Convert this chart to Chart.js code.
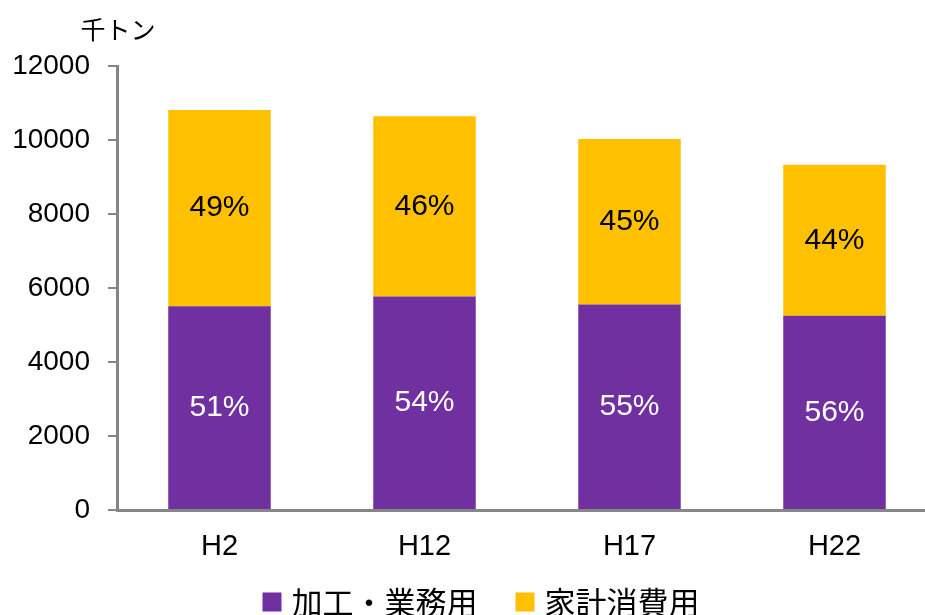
<!DOCTYPE html>
<html>
<head>
<meta charset="utf-8">
<script src="https://cdn.jsdelivr.net/npm/chart.js@4"></script>
<style>
  html, body { margin: 0; padding: 0; overflow: hidden; background: #fff; }
  #wrap { width: 937px; height: 615px; position: relative; }
</style>
</head>
<body>
<div id="wrap"><canvas id="riceChart"></canvas></div>
<script>
// データ
const years = ["H2", "H12", "H17", "H22"];
const processedUse = [5510, 5770, 5555, 5250];   // 加工・業務用
const householdUse = [5300, 4875, 4475, 4080];   // 家計消費用
const yTicks = [0, 2000, 4000, 6000, 8000, 10000, 12000];
const unitLabel = "千トン";
const seriesNames = ["加工・業務用", "家計消費用"];

const FONT = "'Liberation Sans', Arial, 'Noto Sans CJK JP', sans-serif";
const CJK = "'Noto Sans CJK JP', sans-serif";
const AXIS_GREY = "#868686";

// **棒の中に割合を描く**
const percentLabels = {
  id: "percentLabels",
  afterDatasetsDraw(chart) {
    const ctx = chart.ctx;
    const sets = chart.data.datasets;
    ctx.save();
    ctx.font = "30px " + FONT;
    ctx.textAlign = "center";
    ctx.textBaseline = "middle";
    sets.forEach((ds, di) => {
      const meta = chart.getDatasetMeta(di);
      meta.data.forEach((bar, i) => {
        const total = sets.reduce((s, d) => s + d.data[i], 0);
        const pct = Math.round(ds.data[i] / total * 100);
        ctx.fillStyle = di === 0 ? "#ffffff" : "#000000";
        ctx.fillText(pct + "%", bar.x, (bar.y + bar.base) / 2);
      });
    });
    ctx.restore();
  }
};

// **単位ラベルと凡例**
const extras = {
  id: "extras",
  afterDraw(chart) {
    const ctx = chart.ctx;
    ctx.save();
    ctx.font = "25px " + CJK;
    ctx.fillStyle = "#000";
    ctx.textAlign = "center";
    ctx.textBaseline = "middle";
    ctx.fillText(unitLabel, chart.chartArea.left + 1, 29);

    // 凡例
    const box = 19, gap = 10, spacing = 38, cy = 602;
    ctx.font = "31px " + CJK;
    ctx.textAlign = "left";
    const items = chart.data.datasets.map(ds => ({
      text: ds.label, color: ds.backgroundColor, w: ctx.measureText(ds.label).width
    }));
    const total = items.reduce((s, it) => s + box + gap + it.w, 0) + spacing * (items.length - 1);
    let x = 481 - total / 2;
    items.forEach(it => {
      ctx.fillStyle = it.color;
      ctx.fillRect(x, cy - box / 2, box, box);
      ctx.fillStyle = "#000";
      ctx.fillText(it.text, x + box + gap, cy);
      x += box + gap + it.w + spacing;
    });
    ctx.restore();
  }
};

const ctx = document.getElementById("riceChart").getContext("2d");
new Chart(ctx, {
  type: "bar",
  data: {
    labels: years,
    datasets: [
      { label: seriesNames[0], data: processedUse, backgroundColor: "#7030A0",
        categoryPercentage: 0.5, barPercentage: 1.0 },
      { label: seriesNames[1], data: householdUse, backgroundColor: "#FFC000",
        categoryPercentage: 0.5, barPercentage: 1.0 }
    ]
  },
  options: {
    responsive: true,
    maintainAspectRatio: false,
    animation: false,
    layout: { padding: { top: 66, left: 0, right: 0, bottom: 40 } },
    scales: {
      x: {
        stacked: true,
        grid: { display: false, drawTicks: false },
        border: { display: true, color: AXIS_GREY, width: 3 },
        ticks: { color: "#000", font: { family: FONT, size: 29 }, padding: 20 },
        afterFit(scale) { scale.height = 65; }
      },
      y: {
        stacked: true,
        min: 0,
        max: 12000,
        afterBuildTicks(scale) { scale.ticks = yTicks.map(v => ({ value: v })); },
        grid: { drawOnChartArea: false, drawTicks: true, tickLength: 9, color: AXIS_GREY, lineWidth: 2 },
        border: { display: true, color: AXIS_GREY, width: 3 },
        ticks: {
          color: "#000",
          font: { family: FONT, size: 28 },
          padding: 18,
          callback: v => String(v)
        },
        afterFit(scale) { scale.width = 117; }
      }
    },
    plugins: {
      legend: { display: false },
      tooltip: { enabled: false }
    }
  },
  plugins: [percentLabels, extras]
});
</script>
</body>
</html>
